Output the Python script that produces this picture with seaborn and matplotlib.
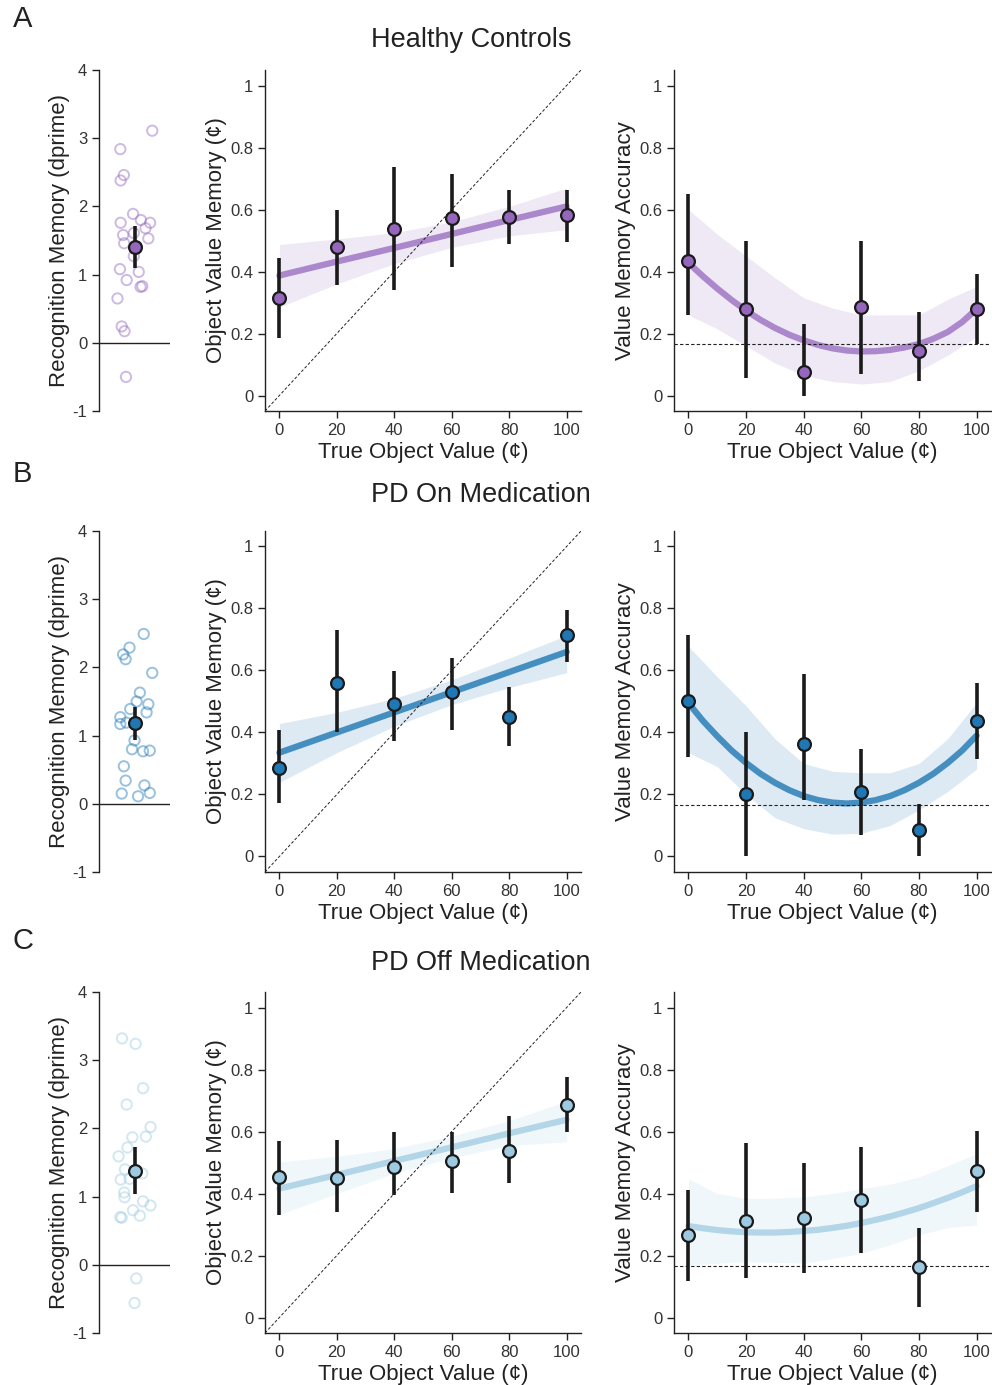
import numpy as np
import pandas as pd
import matplotlib
matplotlib.use("Agg")
import matplotlib.pyplot as plt
import seaborn as sns

# ---------------- data ----------------
groups = ["Healthy Controls", "PD On Medication", "PD Off Medication"]
panel_letters = ["A", "B", "C"]
values = [0, 20, 40, 60, 80, 100]
xticks = [0, 20, 40, 60, 80, 100]
fit_x_lin = [0, 20, 40, 60, 80, 100]
band_x_quad = [0, 10, 20, 30, 40, 50, 60, 70, 80, 90, 100]
curve_x_quad = [0, 5, 10, 15, 20, 25, 30, 35, 40, 45, 50, 55, 60, 65, 70, 75, 80, 85, 90, 95, 100]

# recognition memory (d') individual subjects: jitter x, value y
hc_dp_x = [0.50, -0.40, -0.30, -0.39, -0.04, -0.39, 0.18, 0.44, 0.31, -0.32, -0.02, 0.39,
           -0.29, -0.02, -0.41, 0.12, -0.22, 0.17, 0.22, -0.48, -0.36, -0.28, -0.24]
hc_dp_y = [3.11, 2.84, 2.46, 2.38, 1.89, 1.76, 1.80, 1.76, 1.68, 1.58, 1.61, 1.53,
           1.46, 1.27, 1.08, 1.04, 0.92, 0.82, 0.83, 0.65, 0.24, 0.17, -0.50]
on_dp_x = [0.26, -0.14, -0.32, -0.25, 0.50, 0.15, 0.06, 0.39, -0.12, 0.34, -0.40, -0.40,
           -0.23, 0.00, -0.07, 0.24, 0.43, -0.30, -0.25, 0.28, -0.36, 0.10, 0.43]
on_dp_y = [2.49, 2.29, 2.19, 2.12, 1.92, 1.63, 1.50, 1.46, 1.39, 1.34, 1.27, 1.17,
           1.19, 0.93, 0.80, 0.77, 0.78, 0.55, 0.34, 0.27, 0.15, 0.11, 0.16]
off_dp_x = [-0.35, 0.03, 0.24, -0.22, 0.45, 0.32, -0.06, -0.20, -0.45, -0.27, 0.22, -0.39,
            -0.14, -0.29, -0.28, 0.24, 0.45, -0.04, 0.15, -0.40, -0.36, 0.05, 0.00]
off_dp_y = [3.32, 3.24, 2.59, 2.35, 2.02, 1.88, 1.87, 1.72, 1.59, 1.40, 1.34, 1.25,
            1.26, 1.06, 0.99, 0.93, 0.87, 0.80, 0.72, 0.70, 0.69, -0.20, -0.56]
dp_mean = [1.40, 1.18, 1.37]
dp_lo = [1.095, 0.94, 1.04]
dp_hi = [1.71, 1.42, 1.72]

# object value memory (mean, CI)
hc_ovm = [0.315, 0.478, 0.538, 0.573, 0.576, 0.581]
hc_ovm_lo = [0.185, 0.356, 0.339, 0.415, 0.490, 0.495]
hc_ovm_hi = [0.443, 0.599, 0.738, 0.714, 0.664, 0.664]
on_ovm = [0.287, 0.561, 0.491, 0.532, 0.451, 0.716]
on_ovm_lo = [0.173, 0.403, 0.373, 0.408, 0.355, 0.628]
on_ovm_hi = [0.408, 0.732, 0.598, 0.641, 0.547, 0.795]
off_ovm = [0.453, 0.450, 0.486, 0.504, 0.536, 0.687]
off_ovm_lo = [0.330, 0.339, 0.394, 0.402, 0.434, 0.600]
off_ovm_hi = [0.569, 0.574, 0.598, 0.598, 0.651, 0.776]

# object value memory linear fit (line and band)
hc_ovm_fit = [0.387, 0.432, 0.476, 0.521, 0.566, 0.610]
hc_ovm_fit_lo = [0.285, 0.360, 0.425, 0.478, 0.515, 0.535]
hc_ovm_fit_hi = [0.487, 0.505, 0.525, 0.560, 0.610, 0.669]
on_ovm_fit = [0.335, 0.400, 0.465, 0.530, 0.595, 0.660]
on_ovm_fit_lo = [0.239, 0.335, 0.420, 0.490, 0.545, 0.593]
on_ovm_fit_hi = [0.429, 0.465, 0.510, 0.570, 0.640, 0.713]
off_ovm_fit = [0.416, 0.460, 0.505, 0.549, 0.594, 0.638]
off_ovm_fit_lo = [0.332, 0.400, 0.465, 0.515, 0.555, 0.566]
off_ovm_fit_hi = [0.502, 0.520, 0.545, 0.585, 0.635, 0.698]

# value memory accuracy (mean, CI)
hc_acc = [0.435, 0.278, 0.077, 0.285, 0.145, 0.278]
hc_acc_lo = [0.26, 0.055, 0.0, 0.07, 0.048, 0.165]
hc_acc_hi = [0.65, 0.50, 0.23, 0.50, 0.268, 0.393]
on_acc = [0.50, 0.20, 0.364, 0.207, 0.086, 0.438]
on_acc_lo = [0.322, 0.0, 0.182, 0.07, 0.0, 0.316]
on_acc_hi = [0.713, 0.40, 0.59, 0.346, 0.169, 0.561]
off_acc = [0.266, 0.312, 0.322, 0.379, 0.163, 0.472]
off_acc_lo = [0.119, 0.126, 0.144, 0.207, 0.033, 0.341]
off_acc_hi = [0.41, 0.562, 0.499, 0.55, 0.289, 0.602]

# value memory accuracy quadratic fit (curve and band)
hc_acc_fit = [0.428, 0.385, 0.345, 0.308, 0.274, 0.244, 0.218, 0.196, 0.178, 0.163, 0.152,
              0.145, 0.142, 0.143, 0.147, 0.155, 0.166, 0.183, 0.205, 0.237, 0.279]
hc_acc_fit_lo = [0.26, 0.215, 0.16, 0.105, 0.065, 0.045, 0.037, 0.045, 0.08, 0.13, 0.19]
hc_acc_fit_hi = [0.60, 0.52, 0.45, 0.38, 0.315, 0.282, 0.26, 0.26, 0.26, 0.31, 0.352]
on_acc_fit = [0.495, 0.438, 0.388, 0.342, 0.302, 0.267, 0.238, 0.214, 0.195, 0.182, 0.174,
              0.171, 0.174, 0.182, 0.195, 0.214, 0.238, 0.267, 0.302, 0.342, 0.390]
on_acc_fit_lo = [0.335, 0.29, 0.20, 0.125, 0.09, 0.072, 0.075, 0.10, 0.15, 0.21, 0.282]
on_acc_fit_hi = [0.678, 0.58, 0.486, 0.38, 0.30, 0.275, 0.27, 0.27, 0.30, 0.38, 0.496]
off_acc_fit = [0.295, 0.288, 0.282, 0.278, 0.275, 0.274, 0.274, 0.276, 0.279, 0.283, 0.289,
               0.296, 0.305, 0.315, 0.326, 0.339, 0.353, 0.369, 0.386, 0.404, 0.424]
off_acc_fit_lo = [0.169, 0.175, 0.18, 0.178, 0.175, 0.19, 0.207, 0.235, 0.266, 0.29, 0.298]
off_acc_fit_hi = [0.448, 0.40, 0.384, 0.385, 0.389, 0.40, 0.416, 0.43, 0.453, 0.49, 0.528]

chance = 1 / 6

# ---------------- style ----------------
sns.set_theme(style="ticks")
plt.rcParams["font.family"] = ["Liberation Sans", "DejaVu Sans"]
plt.rcParams["axes.unicode_minus"] = False

colors = ["#9467bd", "#1f77b4", "#9ecae1"]
line_alpha = [0.75, 0.8, 0.75]

dp_x = [hc_dp_x, on_dp_x, off_dp_x]
dp_y = [hc_dp_y, on_dp_y, off_dp_y]
ovm = [(hc_ovm, hc_ovm_lo, hc_ovm_hi), (on_ovm, on_ovm_lo, on_ovm_hi), (off_ovm, off_ovm_lo, off_ovm_hi)]
ovm_fit = [(hc_ovm_fit, hc_ovm_fit_lo, hc_ovm_fit_hi), (on_ovm_fit, on_ovm_fit_lo, on_ovm_fit_hi),
           (off_ovm_fit, off_ovm_fit_lo, off_ovm_fit_hi)]
acc = [(hc_acc, hc_acc_lo, hc_acc_hi), (on_acc, on_acc_lo, on_acc_hi), (off_acc, off_acc_lo, off_acc_hi)]
acc_fit = [(hc_acc_fit, hc_acc_fit_lo, hc_acc_fit_hi), (on_acc_fit, on_acc_fit_lo, on_acc_fit_hi),
           (off_acc_fit, off_acc_fit_lo, off_acc_fit_hi)]

W, H = 992, 1385
fig = plt.figure(figsize=(W / 100, H / 100), dpi=100)

row_top = [70, 531, 992]
row_h = 341
tick_fs = 12
label_fs = 16
ink = "#222222"


def fr(left, top, right, bottom):
    return [left / W, 1 - bottom / H, (right - left) / W, (bottom - top) / H]


def style_axis(ax):
    ax.tick_params(axis="both", labelsize=tick_fs, length=5, width=1, colors=ink, labelcolor="#333333")
    for s in ["left", "bottom"]:
        ax.spines[s].set_color(ink)
        ax.spines[s].set_linewidth(1)
    sns.despine(ax=ax)


def points_with_ci(ax, x, m, lo, hi, color):
    ax.vlines(x, lo, hi, color="#1a1a1a", linewidth=2.6, zorder=4)
    df = pd.DataFrame({"x": x, "y": m})
    sns.scatterplot(data=df, x="x", y="y", ax=ax, color=color, s=85, edgecolor="#1a1a1a",
                    linewidth=1.6, zorder=5, legend=False)


for i in range(3):
    top = row_top[i]
    bot = top + row_h
    c = colors[i]

    # ---- recognition memory strip ----
    ax0 = fig.add_axes(fr(99, top, 170, bot))
    df = pd.DataFrame({"x": dp_x[i], "y": dp_y[i]})
    sns.scatterplot(data=df, x="x", y="y", ax=ax0, facecolor="none", edgecolor=c, alpha=0.45,
                    s=55, linewidth=1.4, legend=False, zorder=2)
    ax0.axhline(0, color=ink, linewidth=1, zorder=1)
    points_with_ci(ax0, [0], [dp_mean[i]], [dp_lo[i]], [dp_hi[i]], c)
    ax0.set_xlim(-1, 1)
    ax0.set_ylim(-1, 4)
    ax0.set_yticks([-1, 0, 1, 2, 3, 4])
    ax0.set_yticklabels(["-1", "0", "1", "2", "3", "4"])
    ax0.set_xticks([])
    ax0.set_xlabel("")
    ax0.set_ylabel("Recognition Memory (dprime)", fontsize=label_fs, color=ink, labelpad=2)
    style_axis(ax0)
    ax0.spines["bottom"].set_visible(False)

    # ---- object value memory ----
    ax1 = fig.add_axes(fr(265, top, 581, bot))
    m, lo, hi = ovm_fit[i]
    ax1.fill_between(fit_x_lin, lo, hi, color=c, alpha=0.15, linewidth=0, zorder=1)
    sns.lineplot(x=fit_x_lin, y=m, ax=ax1, color=c, alpha=line_alpha[i], linewidth=4.5, zorder=2)
    ax1.axline((0, 0), slope=0.01, color="#222222", linestyle=(0, (3, 2)), linewidth=0.7, zorder=3)
    mm, ml, mh = ovm[i]
    points_with_ci(ax1, values, mm, ml, mh, c)
    ax1.set_xlim(-5, 105)
    ax1.set_ylim(-0.05, 1.05)
    ax1.set_xticks(xticks)
    ax1.set_yticks([0, 0.2, 0.4, 0.6, 0.8, 1])
    ax1.set_yticklabels(["0", "0.2", "0.4", "0.6", "0.8", "1"])
    ax1.set_xlabel("True Object Value (¢)", fontsize=label_fs, color=ink, labelpad=3)
    ax1.set_ylabel("Object Value Memory (¢)", fontsize=label_fs, color=ink, labelpad=2)
    style_axis(ax1)

    # ---- value memory accuracy ----
    ax2 = fig.add_axes(fr(674, top, 991, bot))
    m, lo, hi = acc_fit[i]
    ax2.fill_between(band_x_quad, lo, hi, color=c, alpha=0.15, linewidth=0, zorder=1)
    sns.lineplot(x=curve_x_quad, y=m, ax=ax2, color=c, alpha=line_alpha[i], linewidth=4.5, zorder=2)
    ax2.axhline(chance, color="#222222", linestyle=(0, (3, 2)), linewidth=0.8, zorder=3)
    am, al, ah = acc[i]
    points_with_ci(ax2, values, am, al, ah, c)
    ax2.set_xlim(-5, 105)
    ax2.set_ylim(-0.05, 1.05)
    ax2.set_xticks(xticks)
    ax2.set_yticks([0, 0.2, 0.4, 0.6, 0.8, 1])
    ax2.set_yticklabels(["0", "0.2", "0.4", "0.6", "0.8", "1"])
    ax2.set_xlabel("True Object Value (¢)", fontsize=label_fs, color=ink, labelpad=3)
    ax2.set_ylabel("Value Memory Accuracy", fontsize=label_fs, color=ink, labelpad=2)
    style_axis(ax2)

title_y = [40, 495, 963]
letter_y = [19, 474, 941]
for i in range(3):
    fig.text(371 / W, 1 - title_y[i] / H, groups[i], fontsize=19.5, color=ink, ha="left", va="center")
    fig.text(13 / W, 1 - letter_y[i] / H, panel_letters[i], fontsize=21, color=ink, ha="left", va="center")

fig.savefig("out.png", dpi=100)
